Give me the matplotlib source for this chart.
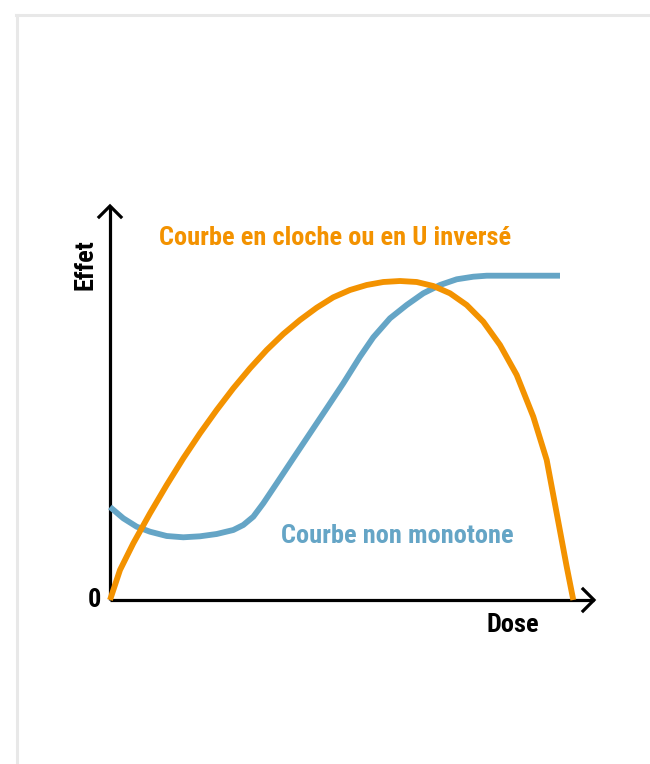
import matplotlib
matplotlib.use("Agg")
import matplotlib.pyplot as plt
from matplotlib.lines import Line2D

# Bell / inverted-U curve (dose, effect)
bell_dose = [0, 10, 23.3, 40, 56.7, 73.3, 90, 106.7, 123.3, 140, 156.7, 173.3, 190, 206.7,
             223.3, 240, 256.7, 273.3, 290, 306.7, 323.3, 340, 356.7, 373.3, 390, 406.7,
             423.3, 436.7, 446.7, 456.7, 463.3]
bell_effect = [0, 30, 56.7, 86.7, 115, 141.7, 166.7, 190, 211.7, 231.7, 250, 266, 280, 292.3,
               302.7, 310, 315, 318, 319, 318, 314, 306.7, 295, 278.3, 255, 225,
               183.3, 140, 86.7, 33.3, 0]

# Non-monotone curve (dose, effect)
nm_dose = [0, 13.3, 26.7, 40, 56.7, 73.3, 90, 106.7, 123.3, 133.3, 143.3, 153.3, 166.7, 183.3,
           200, 216.7, 233.3, 250, 263.3, 280, 296.7, 313.3, 330, 346.7, 363.3, 376.7, 450]
nm_effect = [93, 81.7, 73.3, 68.3, 64, 62.7, 63.7, 66, 70, 75, 83.3, 96.7, 116.7, 141.7,
             166.7, 191.7, 216.7, 243.3, 262.7, 281.7, 295, 306.7, 315, 320.7, 323.3, 324.3, 324.3]

title_bell = "Courbe en cloche ou en U inversé"
title_nm = "Courbe non monotone"
xlabel = "Dose"
ylabel = "Effet"
origin_label = "0"

ORANGE = "#f39200"
BLUE = "#65a5c6"
FONT = ["Roboto Condensed", "Barlow Semi Condensed", "PT Sans Narrow", "DejaVu Sans"]

fig = plt.figure(figsize=(6.5, 7.64), dpi=100)
fig.patch.set_facecolor("white")

# card border
fig.add_artist(Line2D([16.5/650, 16.5/650], [0, 1 - 14.5/764], color="#e8e8e8", lw=2.2,
                      transform=fig.transFigure))
fig.add_artist(Line2D([15.5/650, 1], [1 - 14.5/764, 1 - 14.5/764], color="#e8e8e8", lw=2.2,
                      transform=fig.transFigure))

ax = fig.add_axes([0, 0, 1, 1])
ax.set_xlim(-110, 540)
ax.set_ylim(-164, 600)
ax.axis("off")

# axes with arrows
ax.plot([0, 0], [0, 394], color="black", lw=2.3, solid_capstyle="butt")
ax.plot([-11, 0, 11], [383, 394, 383], color="black", lw=2.3, solid_joinstyle="miter")
ax.plot([0, 484], [0, 0], color="black", lw=2.3, solid_capstyle="butt")
ax.plot([473, 484, 473], [11, 0, -11], color="black", lw=2.3, solid_joinstyle="miter")

# curves
ax.plot(bell_dose, bell_effect, color=ORANGE, lw=4.2, solid_capstyle="butt",
        solid_joinstyle="round", zorder=3)
ax.plot(nm_dose, nm_effect, color=BLUE, lw=4.2, solid_capstyle="butt",
        solid_joinstyle="round", zorder=2)

# texts
t_title = ax.text(225, 362, title_bell, color=ORANGE, fontsize=20, fontweight="bold",
                  family=FONT, ha="center", va="center")
# fit font size so the title spans ~350 px as in the reference
fig.canvas.draw()
w = t_title.get_window_extent().width
fs = 20 * 350.0 / w
t_title.set_fontsize(fs)

ax.text(287, 64, title_nm, color=BLUE, fontsize=fs, fontweight="bold",
        family=FONT, ha="center", va="center")
ax.text(-25, 335, ylabel, color="black", fontsize=fs, fontweight="bold",
        family=FONT, ha="center", va="center", rotation=90)
ax.text(-9, 0, origin_label, color="black", fontsize=fs, fontweight="bold",
        family=FONT, ha="right", va="center")
ax.text(403, -25, xlabel, color="black", fontsize=fs, fontweight="bold",
        family=FONT, ha="center", va="center")

fig.savefig("out.png", dpi=100, facecolor="white")
